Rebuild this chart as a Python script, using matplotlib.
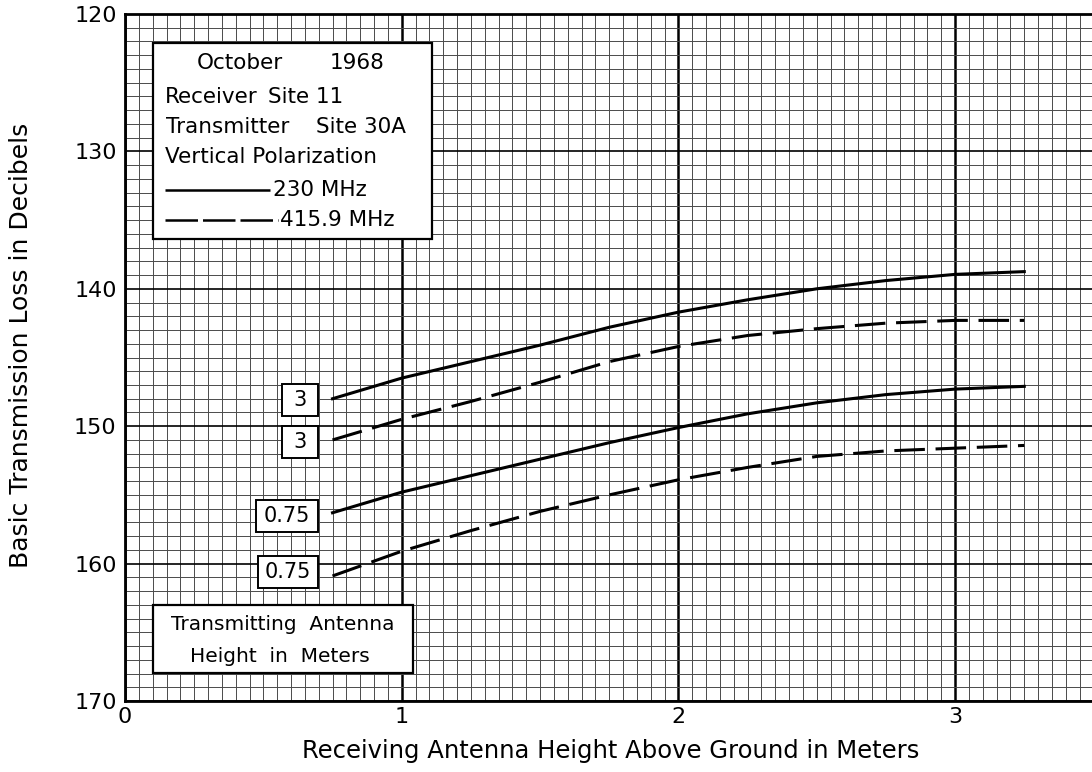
import matplotlib
matplotlib.use("Agg")
import matplotlib.pyplot as plt
import numpy as np
from matplotlib.patches import Rectangle

# ---- data ----
heights = [0.75, 1.0, 1.25, 1.5, 1.75, 2.0, 2.25, 2.5, 2.75, 3.0, 3.25]
loss_230_tx3 = [148.0, 146.5, 145.3, 144.1, 142.8, 141.7, 140.8, 140.0, 139.4, 138.95, 138.75]
loss_416_tx3 = [151.0, 149.5, 148.2, 146.8, 145.3, 144.2, 143.4, 142.9, 142.5, 142.3, 142.3]
loss_230_tx075 = [156.3, 154.8, 153.6, 152.4, 151.2, 150.1, 149.1, 148.3, 147.7, 147.3, 147.1]
loss_416_tx075 = [160.9, 159.1, 157.6, 156.2, 155.0, 153.9, 153.0, 152.2, 151.8, 151.6, 151.4]
curve_labels = ["3", "3", "0.75", "0.75"]
x_ticks = [0, 1, 2, 3]
y_ticks = [120, 130, 140, 150, 160, 170]
info_title = ("October", "1968")
info_rx = ("Receiver", "Site 11")
info_tx = ("Transmitter", "Site 30A")
info_pol = "Vertical Polarization"
legend_labels = ["230 MHz", "415.9 MHz"]
caption_lines = ["Transmitting  Antenna", "Height  in  Meters"]
x_label = "Receiving Antenna Height Above Ground in Meters"
y_label = "Basic Transmission Loss in Decibels"

W, H = 1092, 772
fig = plt.figure(figsize=(W / 100, H / 100), dpi=100)
left_px, right_px, top_px, bottom_px = 125, 125 + 3.5 * 276.7, 14, 701
ax = fig.add_axes([left_px / W, 1 - bottom_px / H, (right_px - left_px) / W,
                   (bottom_px - top_px) / H])
ax.set_xlim(0, 3.5)
ax.set_ylim(170, 120)

# graph-paper grid
for xv in np.arange(0, 3.5001, 0.05):
    major = abs(xv - round(xv)) < 1e-6
    ax.axvline(xv, color="black" if major else "#4a4a4a",
               lw=1.8 if major else 0.7, zorder=1)
for yv in np.arange(120, 170.001, 1.0):
    major = abs(yv % 10) < 1e-6
    ax.axhline(yv, color="black" if major else "#4a4a4a",
               lw=1.2 if major else 0.7, zorder=1)

lw = 2.2
ax.plot(heights, loss_230_tx3, color="black", lw=lw, zorder=4)
ax.plot(heights, loss_416_tx3, color="black", lw=lw, dashes=(10, 3.5), zorder=4)
ax.plot(heights, loss_230_tx075, color="black", lw=lw, zorder=4)
ax.plot(heights, loss_416_tx075, color="black", lw=lw, dashes=(10, 3.5), zorder=4)


def ax_fr(px, py):
    return ((px - left_px) / (right_px - left_px),
            1 - (py - top_px) / (bottom_px - top_px))


def box_px(x0, y0, x1, y1, lw_=1.6):
    a0 = ax_fr(x0, y1)
    a1 = ax_fr(x1, y0)
    ax.add_patch(Rectangle(a0, a1[0] - a0[0], a1[1] - a0[1], transform=ax.transAxes,
                           fc="white", ec="black", lw=lw_, zorder=5))


# curve labels in boxes, attached to the start of each curve
starts = [loss_230_tx3[0], loss_416_tx3[0], loss_230_tx075[0], loss_416_tx075[0]]
box_w = [36, 36, 62, 60]
box_dy = [1, 2, 3, -4]
fig.canvas.draw()
for lab, bw, dy, y0 in zip(curve_labels, box_w, box_dy, starts):
    dx, dyd = ax.transData.transform((heights[0], y0))
    px_x = dx
    px_y = H - dyd
    cx = px_x - 15 - bw / 2
    cy = px_y + dy
    box_px(cx - bw / 2, cy - 16, cx + bw / 2, cy + 16, 1.4)
    ax.text(*ax_fr(cx, cy), lab, transform=ax.transAxes, ha="center", va="center",
            fontsize=15, zorder=6)

# info box (upper left)
fs = 15.5
box_px(153, 43, 432, 239)
for txt, tx, ty in [(info_title[0], 197, 63), (info_title[1], 330, 63),
                    (info_rx[0], 165, 97), (info_rx[1], 268, 97),
                    (info_tx[0], 166, 127), (info_tx[1], 316, 127),
                    (info_pol, 165, 157)]:
    ax.text(*ax_fr(tx, ty), txt, transform=ax.transAxes, ha="left", va="center",
            fontsize=fs, zorder=6)
# legend samples
l0 = ax_fr(165, 190); l1 = ax_fr(270, 190)
ax.plot([l0[0], l1[0]], [l0[1], l1[1]], transform=ax.transAxes, color="black",
        lw=1.8, zorder=6, solid_capstyle="butt")
ax.text(*ax_fr(273, 190), legend_labels[0], transform=ax.transAxes, ha="left",
        va="center", fontsize=fs, zorder=6)
d0 = ax_fr(165, 220); d1 = ax_fr(278, 220)
ax.plot([d0[0], d1[0]], [d0[1], d1[1]], transform=ax.transAxes, color="black",
        lw=1.8, dashes=(13, 2), zorder=6)
ax.text(*ax_fr(280, 220), legend_labels[1], transform=ax.transAxes, ha="left",
        va="center", fontsize=fs, zorder=6)

# lower-left caption box
box_px(153, 605, 413, 673)
ax.text(*ax_fr(283, 625), caption_lines[0], transform=ax.transAxes,
        ha="center", va="center", fontsize=14.5, zorder=6)
ax.text(*ax_fr(280, 656), caption_lines[1], transform=ax.transAxes,
        ha="center", va="center", fontsize=14.5, zorder=6)

# axes styling
ax.set_xticks(x_ticks)
ax.set_yticks(y_ticks)
ax.set_xticklabels([str(v) for v in x_ticks], fontsize=16)
ax.set_yticklabels([str(v) for v in y_ticks], fontsize=16)
ax.tick_params(axis="x", length=0, pad=4)
ax.tick_params(axis="y", length=0, pad=6)
for s in ["left", "bottom", "top"]:
    ax.spines[s].set_linewidth(2.0)
ax.spines["right"].set_visible(False)

fig.text(611 / W, 1 - 751 / H, x_label, ha="center", va="center", fontsize=17.5)
fig.text(21 / W, 1 - 345 / H, y_label, ha="center", va="center", rotation=90,
         fontsize=18)

fig.savefig("out.png", dpi=100)
